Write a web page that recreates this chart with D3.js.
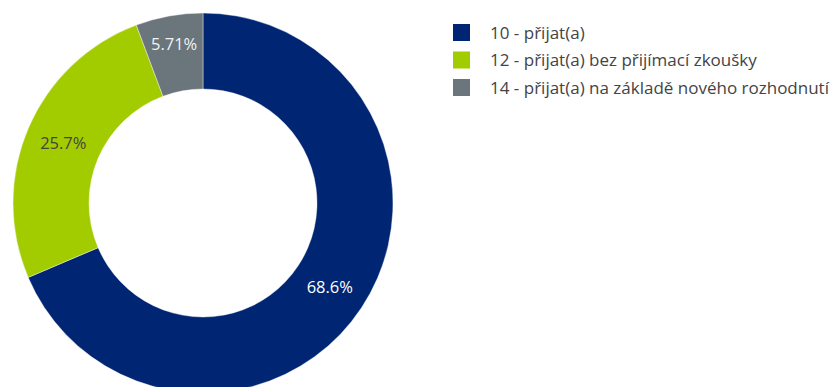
<!DOCTYPE html>
<html>
<head>
<meta charset="utf-8">
<script src="https://cdn.jsdelivr.net/npm/d3@7"></script>
<style>
  body { margin: 0; background: #fff; }
  svg { display: block; font-family: "Open Sans", sans-serif; }
</style>
</head>
<body>
<script>
// chart data
const categories = [
  "10 - přijat(a)",
  "12 - přijat(a) bez přijímací zkoušky",
  "14 - přijat(a) na základě nového rozhodnutí"
];
const values = [68.6, 25.7, 5.71];
const labels = ["68.6%", "25.7%", "5.71%"];

const colors = ["#002673", "#a2cc00", "#6a757c"];
const labelColors = ["#ffffff", "#444444", "#f2f2f2"];

const width = 830, height = 387;
const cx = 203, cy = 203;
const outerR = 190, innerR = 114;

const svg = d3.select("body")
  .append("svg")
  .attr("width", width)
  .attr("height", height);

const pie = d3.pie()
  .sort(null)
  .value(d => d);

const arcs = pie(values);

const arc = d3.arc()
  .innerRadius(innerR)
  .outerRadius(outerR);

// labels sit a bit further out on the thin slice
const labelArc = (d, i) => {
  const span = d.endAngle - d.startAngle;
  const r = span < 0.5 ? 162 : (innerR + outerR) / 2;
  return d3.arc().innerRadius(r).outerRadius(r).centroid(d);
};

const g = svg.append("g")
  .attr("transform", `translate(${cx},${cy})`);

g.selectAll("path")
  .data(arcs)
  .enter()
  .append("path")
  .attr("d", arc)
  .attr("fill", (d, i) => colors[i])
  .attr("stroke", "#fff")
  .attr("stroke-width", 0.4);

g.selectAll("text")
  .data(arcs)
  .enter()
  .append("text")
  .attr("transform", (d, i) => `translate(${labelArc(d, i)})`)
  .attr("text-anchor", "middle")
  .attr("dy", "0.36em")
  .style("font-size", "16.5px")
  .attr("fill", (d, i) => labelColors[i])
  .text((d, i) => labels[i]);

// legend
const legend = svg.append("g")
  .attr("transform", "translate(453,24)");

const item = legend.selectAll("g")
  .data(categories)
  .enter()
  .append("g")
  .attr("transform", (d, i) => `translate(0,${i * 27.5})`);

item.append("rect")
  .attr("width", 17)
  .attr("height", 17)
  .attr("fill", (d, i) => colors[i]);

item.append("text")
  .attr("x", 37)
  .attr("y", 8.5)
  .attr("dy", "0.36em")
  .style("font-size", "17px")
  .attr("fill", "#444")
  .text(d => d);
</script>
</body>
</html>
